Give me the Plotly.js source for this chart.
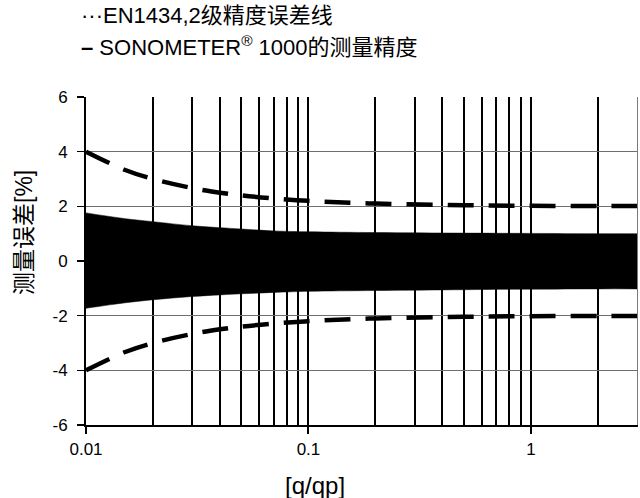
<!DOCTYPE html>
<html>
<head>
<meta charset="utf-8">
<script src="https://cdn.plot.ly/plotly-3.0.1.min.js"></script>
<style>html,body{margin:0;padding:0;background:#fff;}#chart{width:640px;height:498px;}</style>
</head>
<body>
<div id="chart"></div>
<script>
// q/qp sample points
const q = [0.01, 0.015, 0.02, 0.03, 0.04, 0.05, 0.07, 0.1, 0.2, 0.5, 1, 2, 3];
// SONOMETER 1000 measurement accuracy band (upper / lower)
const bandUpper = [1.76, 1.55, 1.44, 1.29, 1.22, 1.17, 1.10, 1.07, 1.04, 1.02, 1.01, 1.00, 1.00];
const bandLower = [-1.73, -1.53, -1.42, -1.30, -1.24, -1.20, -1.15, -1.11, -1.08, -1.05, -1.03, -1.02, -1.02];
// EN1434 class 2 error limit lines
const enUpper = [4.00, 3.33, 3.00, 2.67, 2.50, 2.40, 2.29, 2.20, 2.10, 2.04, 2.02, 2.01, 2.01];
const enLower = [-4.00, -3.33, -3.00, -2.67, -2.50, -2.40, -2.29, -2.20, -2.10, -2.04, -2.02, -2.01, -2.01];
// axis ticks
const xMajorVals = [0.01, 0.1, 1];
const xMajorText = ['0.01', '0.1', '1'];
const xMinorVals = [0.02,0.03,0.04,0.05,0.06,0.07,0.08,0.09,0.2,0.3,0.4,0.5,0.6,0.7,0.8,0.9,2,3];
const yVals = [-6, -4, -2, 0, 2, 4, 6];
const yText = ['-6', '-4', '-2', '0', '2', '4', '6'];
const legendText1 = '···EN1434,2级精度误差线';
const legendText2 = '<b>–</b> SONOMETER<sup>®</sup> 1000的测量精度';
const xTitle = '[q/qp]';
const yTitle = '测量误差[%]';

const FONT = 'Liberation Sans, Arial, "Noto Sans CJK SC", sans-serif';

const traces = [
  {x: q, y: bandLower, mode: 'lines', line: {color: '#000', width: 0.5, shape: 'spline'}, showlegend: false, hoverinfo: 'skip'},
  {x: q, y: bandUpper, mode: 'lines', fill: 'tonexty', fillcolor: '#000', line: {color: '#000', width: 0.5, shape: 'spline'}, showlegend: false, hoverinfo: 'skip'},
  {x: q, y: enUpper, mode: 'lines', line: {color: '#000', width: 4.5, dash: '26px,15px', shape: 'spline'}, showlegend: false},
  {x: q, y: enLower, mode: 'lines', line: {color: '#000', width: 4.5, dash: '26px,15px', shape: 'spline'}, showlegend: false}
];

const layout = {
  width: 640, height: 498,
  margin: {l: 86, r: 3, t: 97, b: 73},
  paper_bgcolor: '#fff', plot_bgcolor: '#fff',
  font: {family: FONT, color: '#000', size: 17},
  showlegend: false,
  xaxis: {
    type: 'log', range: [Math.log10(0.01), Math.log10(3)],
    tickmode: 'array', tickvals: xMajorVals, ticktext: xMajorText,
    ticks: 'outside', ticklen: 7, tickwidth: 2, tickcolor: '#000',
    showline: true, linecolor: '#000', linewidth: 2,
    showgrid: true, gridcolor: '#000', gridwidth: 2,
    minor: {tickmode: 'array', tickvals: xMinorVals, showgrid: true, gridcolor: '#000', gridwidth: 2, ticks: ''},
    tickfont: {size: 17, family: FONT, color: '#000'},
    ticklabelstandoff: 1,
    zeroline: false
  },
  yaxis: {
    range: [-6, 6],
    tickmode: 'array', tickvals: yVals, ticktext: yText,
    ticks: 'outside', ticklen: 7, tickwidth: 1.5, tickcolor: '#000',
    showline: true, linecolor: '#000', linewidth: 2,
    showgrid: true, gridcolor: '#6e6e6e', gridwidth: 1.2,
    zeroline: false,
    tickfont: {size: 17, family: FONT, color: '#000'},
    ticklabelstandoff: 6
  },
  yaxis2: {
    range: [-6, 6], overlaying: 'y', side: 'right',
    showline: true, linecolor: '#7a7a7a', linewidth: 1.2,
    showgrid: false, showticklabels: false, ticks: '', zeroline: false
  },
  annotations: [
    {xref: 'paper', yref: 'paper', x: (79-86)/551, y: (425-16)/328, xanchor: 'left', yanchor: 'middle',
     text: legendText1, showarrow: false, font: {size: 22, family: FONT, color: '#000'}},
    {xref: 'paper', yref: 'paper', x: (79-86)/551, y: (425-46)/328, xanchor: 'left', yanchor: 'middle',
     text: legendText2, showarrow: false, font: {size: 22, family: FONT, color: '#000'}},
    {xref: 'paper', yref: 'paper', x: (315-86)/551, y: (425-485)/328, xanchor: 'center', yanchor: 'middle',
     text: xTitle, showarrow: false, font: {size: 24, family: FONT, color: '#000'}},
    {xref: 'paper', yref: 'paper', x: (24-86)/551, y: (425-233)/328, xanchor: 'center', yanchor: 'middle',
     text: yTitle, textangle: -90, showarrow: false, font: {size: 23, family: FONT, color: '#000'}}
  ]
};

// invisible trace to activate the right-hand frame axis
traces.push({x: [0.01], y: [0], yaxis: 'y2', mode: 'markers', marker: {opacity: 0}, showlegend: false, hoverinfo: 'skip'});

Plotly.newPlot('chart', traces, layout, {staticPlot: true, displayModeBar: false});
</script>
</body>
</html>
